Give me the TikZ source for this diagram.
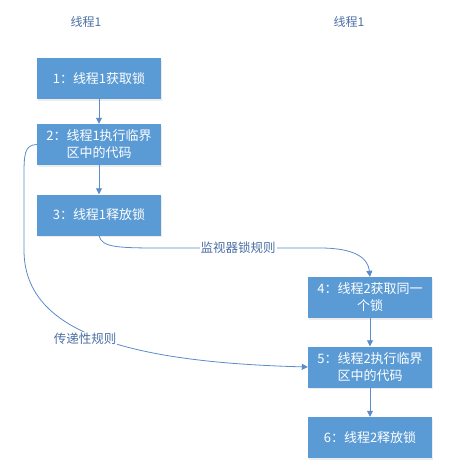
\documentclass[tikz,border=0pt]{standalone}
\usepackage{fontspec}
\setmainfont{Noto Sans CJK SC}
\usetikzlibrary{arrows.meta,shadows}
\definecolor{boxblue}{HTML}{5B9BD5}
\definecolor{lineblue}{HTML}{5A8CC8}
\definecolor{labelblue}{HTML}{4A6FA5}
\begin{document}
\begin{tikzpicture}[x=1pt,y=-1pt,
  stepbox/.style={fill=boxblue, text=white, minimum width=124pt, minimum height=41pt,
    align=center, inner sep=0pt, font=\fontsize{13}{17}\selectfont,
    drop shadow={opacity=0.15, shadow xshift=1pt, shadow yshift=-1.5pt}},
  title/.style={text=labelblue, font=\fontsize{12}{14}\selectfont},
  rulelabel/.style={text=labelblue, fill=white, inner sep=1pt, font=\fontsize{12.5}{14}\selectfont},
  conn/.style={draw=lineblue, line width=0.8pt, -{Triangle[length=6pt,width=6pt]}}]
\useasboundingbox (0,0) rectangle (458,466);
\node[title] (t1) at (86,22) {线程1};
\node[title] (t2) at (349,22) {线程1};
\node[stepbox] (b1) at (99,78.5) {1：线程1获取锁};
\node[stepbox] (b2) at (99,144.5) {2：线程1执行临界\\区中的代码};
\node[stepbox] (b3) at (99,215) {3：线程1释放锁};
\node[stepbox] (b4) at (370,297.5) {4：线程2获取同一\\个锁};
\node[stepbox] (b5) at (370,367) {5：线程2执行临界\\区中的代码};
\node[stepbox] (b6) at (370,437.5) {6：线程2释放锁};
\coordinate (m1) at (160,248);
\coordinate (m2) at (320,248);
\coordinate (p1) at (24,178);
\coordinate (p2) at (24,250);
\draw[conn] (b1) -- (b2);
\draw[conn] (b2) -- (b3);
\draw[conn] (b4) -- (b5);
\draw[conn] (b5) -- (b6);
\draw[conn] (b3.south) .. controls (102,247) and (115,248) .. (m1) -- (m2)
  .. controls (355,248) and (368,258) .. (b4.north);
\draw[conn] (b2.west) .. controls (24,145) and (24,155) .. (p1) -- (p2)
  .. controls (24,330) and (120,362) .. (b5.west);
\node[rulelabel] (l1) at (238,248) {监视器锁规则};
\node[rulelabel] (l2) at (85,339) {传递性规则};
\end{tikzpicture}
\end{document}
